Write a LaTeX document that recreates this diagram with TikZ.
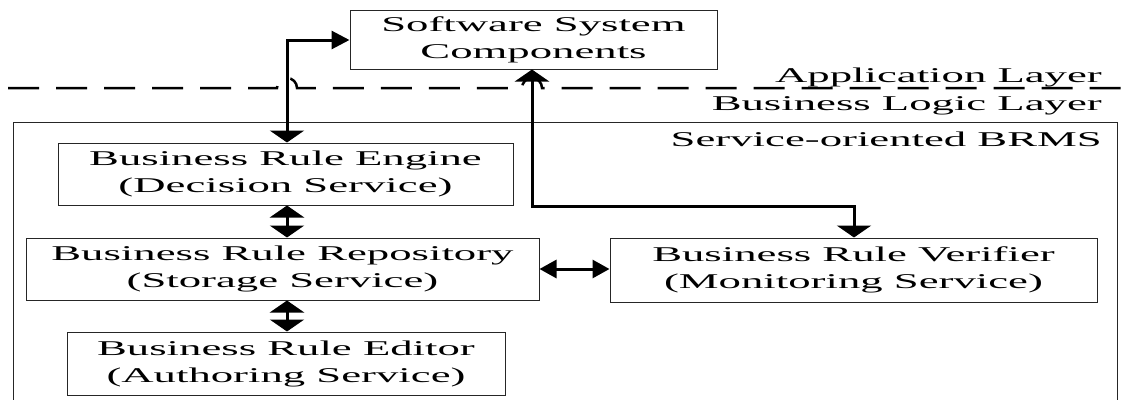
\documentclass[tikz,border=0pt]{standalone}
\usepackage{fontspec}
\setmainfont{Liberation Serif}[FakeStretch=2.13]
\usetikzlibrary{arrows.meta}
\tikzset{
  box/.style={draw=black!85, line width=1pt, inner sep=0pt, align=center,
    font=\fontsize{21}{27}\selectfont},
  lbl/.style={inner sep=0pt, font=\fontsize{21}{27}\selectfont},
  conn/.style={line width=3pt},
  vv/.style={conn, arrows={Triangle[length=12pt,width=34pt]-Triangle[length=12pt,width=34pt]}},
  hh/.style={conn, arrows={Triangle[length=17pt,width=18pt]-Triangle[length=17pt,width=18pt]}},
  vh/.style={conn, arrows={Triangle[length=12pt,width=34pt]-Triangle[length=18pt,width=18pt]}},
  layerline/.style={line width=2.5pt, dash pattern=on 31pt off 17pt}
}
\begin{document}
\begin{tikzpicture}[x=1pt,y=-1pt]
\useasboundingbox (0,0) rectangle (1122,399);
% layer separator with hops
\draw[layerline] (8,88) -- (277,88) arc (180:360:10) -- (522,88) arc (180:360:10) -- (1130,88);
\node[lbl, anchor=base east] (app) at (1102,82) {Application Layer};
\node[lbl, anchor=base east] (blo) at (1102,110) {Business Logic Layer};
% outer BRMS frame
\draw[line width=1pt, draw=black!85] (13,410) -- (13,122) -- (1117,122) -- (1117,410);
\node[lbl, anchor=base east] (brms) at (1102,146) {Service-oriented BRMS};
% boxes
\node[box, minimum width=367pt, minimum height=59pt] (ssc) at (533.5,39.5) {Software System\\Components};
\node[box, minimum width=455pt, minimum height=62pt] (eng) at (285.5,174) {Business Rule Engine\\(Decision Service)};
\node[box, minimum width=513pt, minimum height=62pt] (rep) at (282.5,269) {Business Rule Repository\\(Storage Service)};
\node[box, minimum width=438pt, minimum height=63pt] (edi) at (286,363.5) {Business Rule Editor\\(Authoring Service)};
\node[box, minimum width=487pt, minimum height=64pt] (ver) at (853.5,270) {Business Rule Verifier\\(Monitoring Service)};
% connectors
\coordinate (c1) at (287,40);
\draw[vh] (eng.north -| c1) -- (c1) -- (ssc.west |- c1);
\coordinate (c2) at (532,206);
\coordinate (c3) at (854,206);
\draw[vv] (ssc.south -| c2) -- (c2) -- (c3) -- (ver.north -| c3);
\coordinate (c4) at (287,0);
\draw[vv] (eng.south -| c4) -- (rep.north -| c4);
\draw[vv] (rep.south -| c4) -- (edi.north -| c4);
\coordinate (c5) at (0,269);
\draw[hh] (rep.east |- c5) -- (ver.west |- c5);
\end{tikzpicture}
\end{document}
